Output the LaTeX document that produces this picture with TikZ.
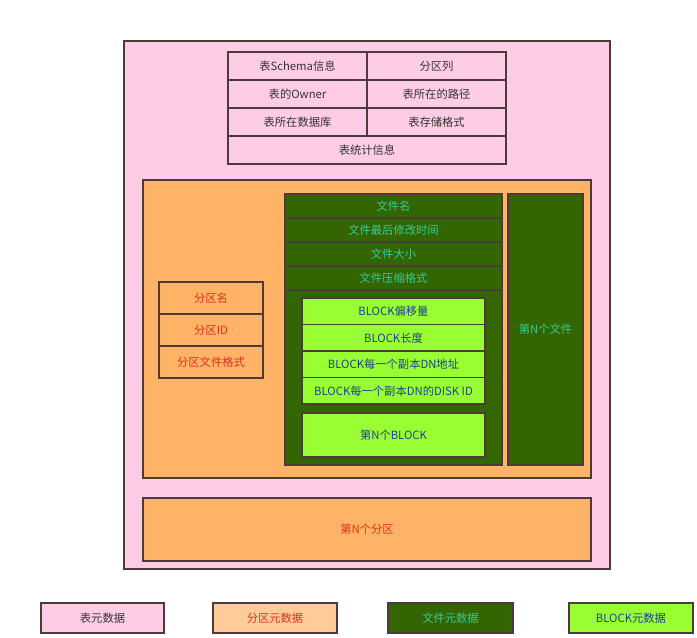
\documentclass[tikz,border=0pt]{standalone}
\usepackage{fontspec}
\setmainfont{Noto Sans CJK SC}
\usepackage{tikz}
\usetikzlibrary{positioning}
\definecolor{tblpink}{HTML}{FFCCE6}
\definecolor{partorange}{HTML}{FFB366}
\definecolor{partlight}{HTML}{FFCC99}
\definecolor{filegreen}{HTML}{336600}
\definecolor{blockgreen}{HTML}{99FF33}
\definecolor{edgegray}{HTML}{4D3B3B}
\definecolor{tbltext}{HTML}{333333}
\definecolor{parttext}{HTML}{E0301E}
\definecolor{filetext}{HTML}{33CC99}
\definecolor{blocktext}{HTML}{1F3F8F}
\tikzstyle{cell}=[draw=edgegray, line width=1.3pt, inner sep=0pt, font=\fontsize{11.3}{13}\selectfont]
\tikzstyle{tbl}=[cell, fill=tblpink, text=tbltext]
\tikzstyle{part}=[cell, fill=partorange, text=parttext]
\tikzstyle{file}=[cell, fill=filegreen, text=filetext]
\tikzstyle{blk}=[cell, fill=blockgreen, text=blocktext]
\tikzset{sz/.style 2 args={minimum width=#1pt, minimum height=#2pt}}

\begin{document}
\begin{tikzpicture}[x=1pt, y=-1pt]
\useasboundingbox (0,0) rectangle (697,638);
% the table box
\node[tbl, sz={486}{528}] (T) at (367,305) {};
\node[tbl, sz={139}{28}] (T11) at (297.5,66) {表Schema信息};
\node[tbl, sz={139}{28}] (T12) at (436.5,66) {分区列};
\node[tbl, sz={139}{28}] (T21) at (297.5,94) {表的Owner};
\node[tbl, sz={139}{28}] (T22) at (436.5,94) {表所在的路径};
\node[tbl, sz={139}{28}] (T31) at (297.5,122) {表所在数据库};
\node[tbl, sz={139}{28}] (T32) at (436.5,122) {表存储格式};
\node[tbl, sz={278}{28}] (T4) at (367,150) {表统计信息};
% the partition boxes
\node[part, sz={448}{298}] (P) at (367,329) {};
\node[part, sz={104}{32}] (P1) at (211,298) {分区名};
\node[part, sz={104}{32}] (P2) at (211,330) {分区ID};
\node[part, sz={104}{32}] (P3) at (211,362) {分区文件格式};
\node[part, sz={448}{63}] (PN) at (367,529.5) {第N个分区};
% the file boxes
\node[file, sz={217}{271}] (F) at (393.5,329.5) {};
\node[file, sz={217}{24}] (F1) at (393.5,206) {文件名};
\node[file, sz={217}{24}] (F2) at (393.5,230) {文件最后修改时间};
\node[file, sz={217}{24}] (F3) at (393.5,254) {文件大小};
\node[file, sz={217}{24}] (F4) at (393.5,278) {文件压缩格式};
\node[file, sz={75}{271}] (FN) at (545.5,329.5) {第N个文件};
% the block boxes
\node[blk, sz={183}{26.5}] (B1) at (393.5,311.25) {BLOCK偏移量};
\node[blk, sz={183}{26.5}] (B2) at (393.5,337.75) {BLOCK长度};
\node[blk, sz={183}{26.5}] (B3) at (393.5,364.25) {BLOCK每一个副本DN地址};
\node[blk, sz={183}{26.5}] (B4) at (393.5,390.75) {BLOCK每一个副本DN的DISK ID};
\node[blk, sz={183}{44}] (BN) at (393.5,435) {第N个BLOCK};
% the legend
\node[tbl, sz={123}{30}] (L1) at (102.5,618) {表元数据};
\node[part, fill=partlight, sz={124}{30}] (L2) at (275,618) {分区元数据};
\node[file, sz={125}{30}] (L3) at (450.5,618) {文件元数据};
\node[blk, sz={124}{30}] (L4) at (631,618) {BLOCK元数据};
\end{tikzpicture}
\end{document}
